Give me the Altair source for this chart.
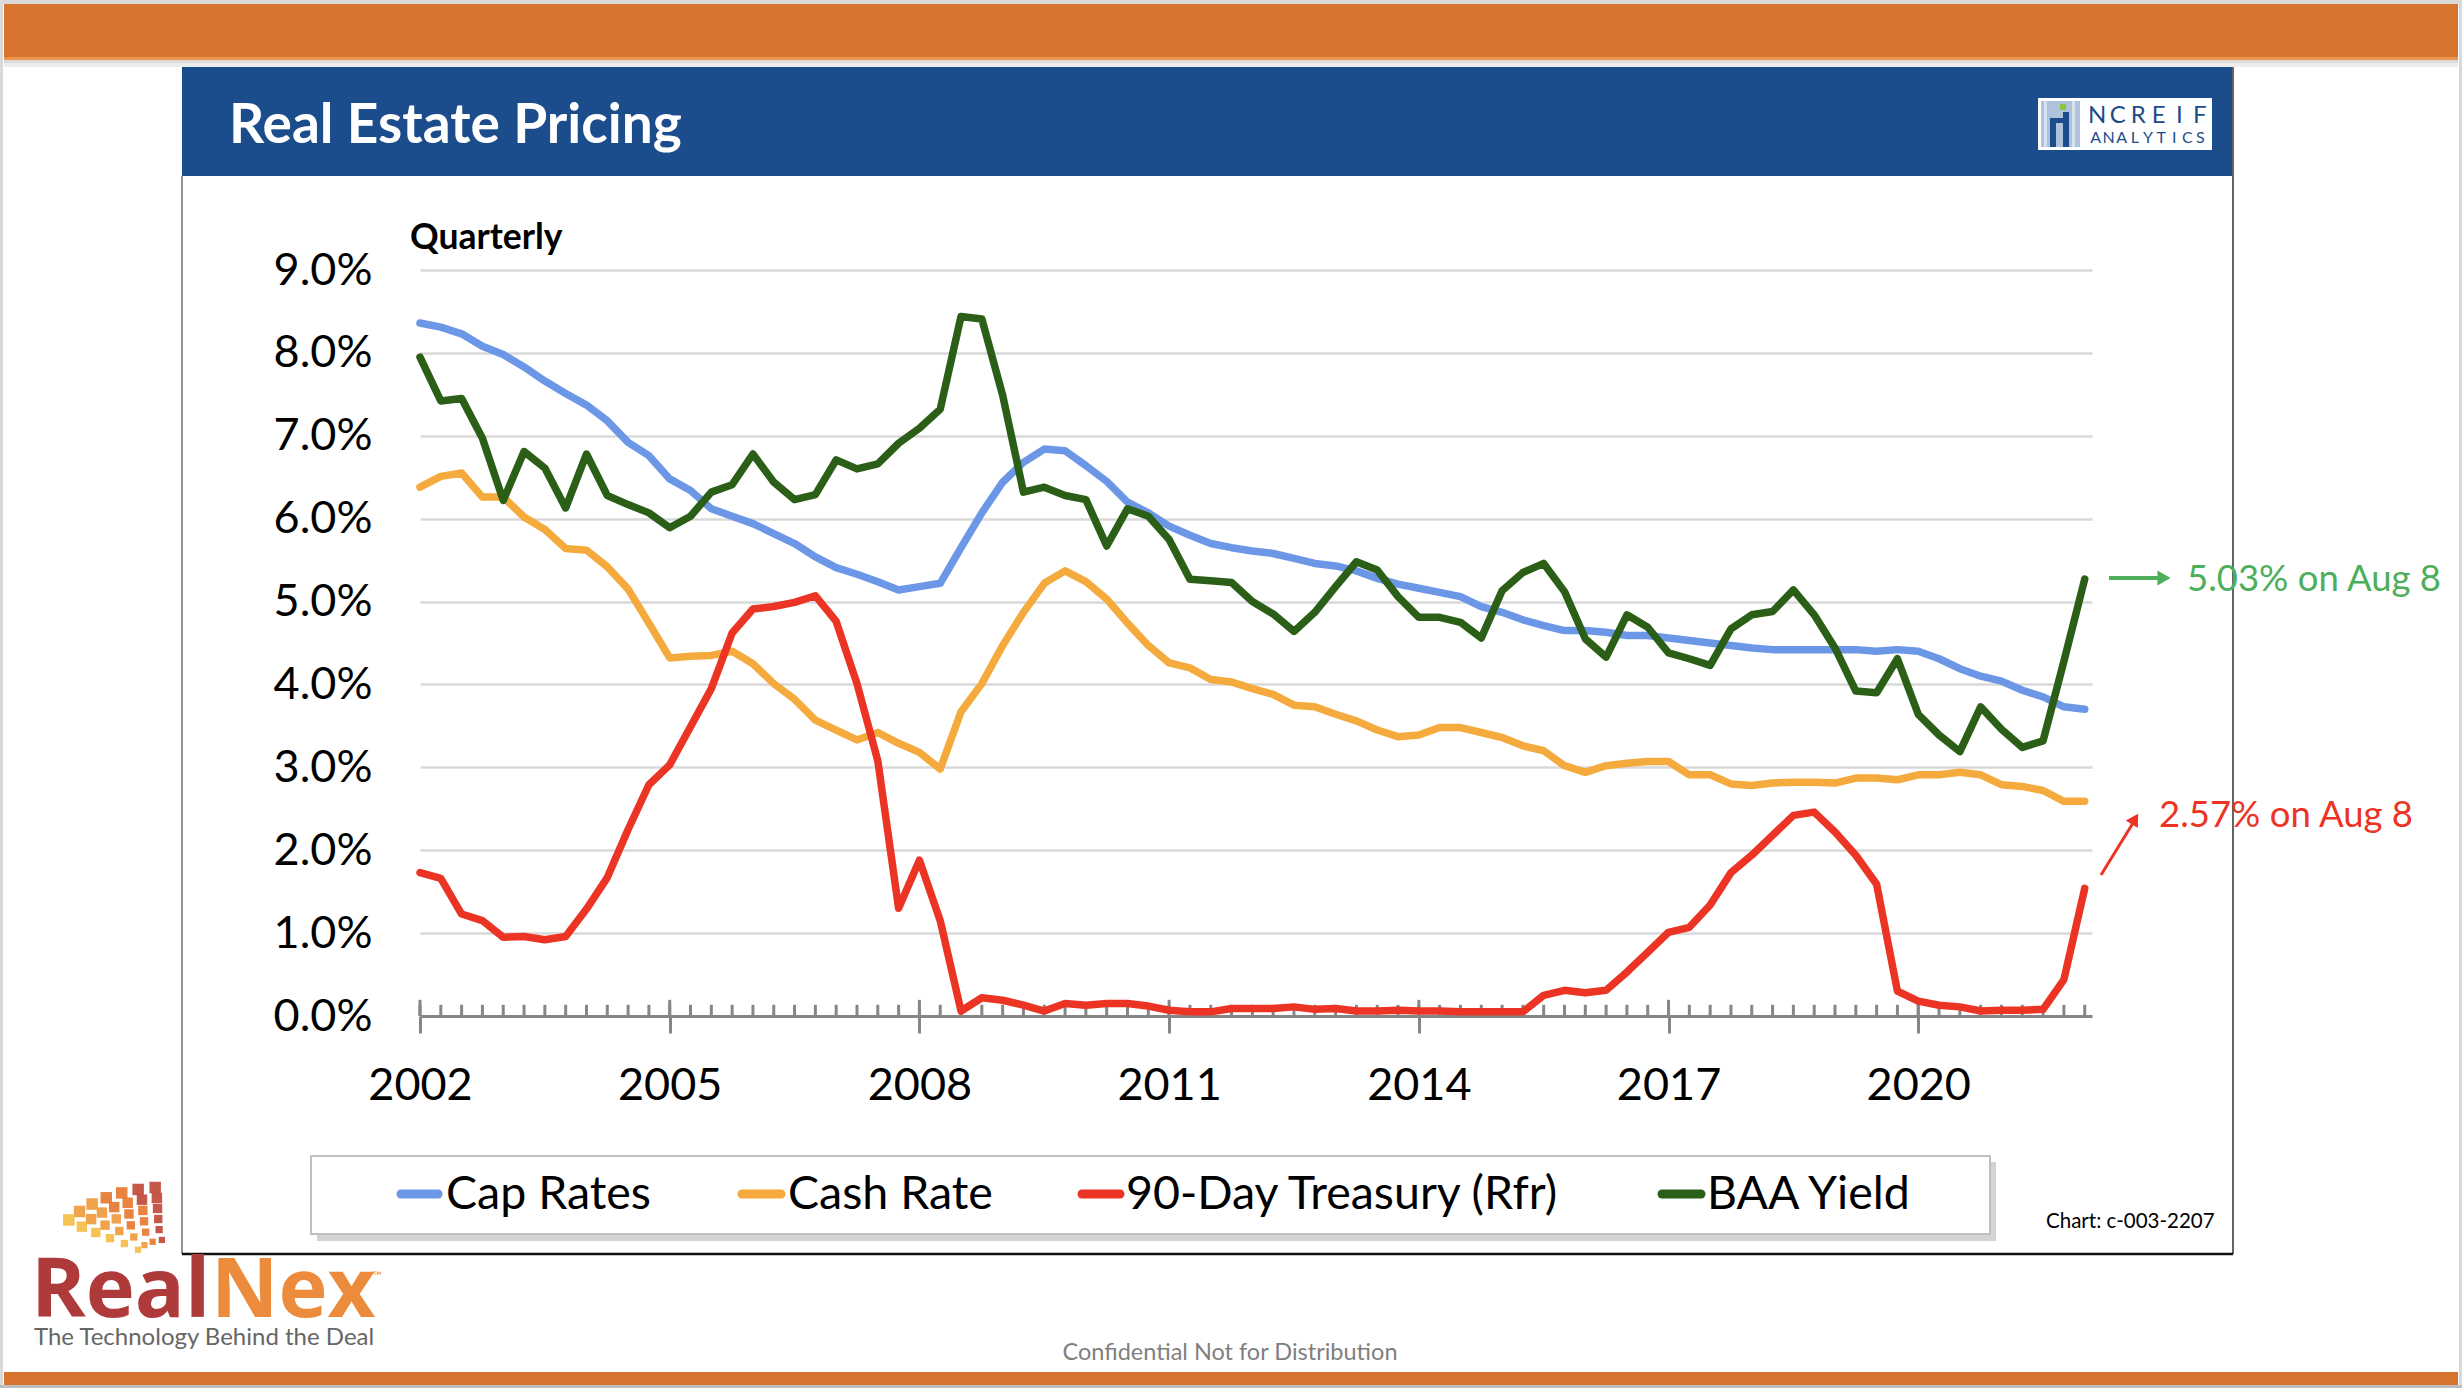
import math
import altair as alt
import pandas as pd

# ---------------- data (quarterly, 2002Q1 .. 2022Q1) ----------------
quarters = list(range(81))
year_tick_quarters = [0, 12, 24, 36, 48, 60, 72]
first_year = 2002

cap_rates = [8.36, 8.31, 8.23, 8.08, 7.98, 7.83, 7.66, 7.51, 7.37, 7.18,
             6.92, 6.76, 6.48, 6.34, 6.12, 6.03, 5.94, 5.82, 5.70, 5.54,
             5.41, 5.33, 5.24, 5.14, 5.18, 5.22, 5.65, 6.07, 6.44, 6.68,
             6.84, 6.82, 6.64, 6.45, 6.20, 6.07, 5.91, 5.80, 5.70, 5.65,
             5.61, 5.58, 5.52, 5.46, 5.43, 5.37, 5.28, 5.21, 5.16, 5.11,
             5.06, 4.94, 4.87, 4.78, 4.71, 4.65, 4.65, 4.63, 4.59, 4.59,
             4.56, 4.53, 4.50, 4.47, 4.44, 4.42, 4.42, 4.42, 4.42, 4.42,
             4.40, 4.42, 4.40, 4.31, 4.19, 4.10, 4.04, 3.93, 3.85, 3.73,
             3.70]
cash_rate = [6.38, 6.51, 6.55, 6.26, 6.26, 6.02, 5.87, 5.64, 5.62, 5.42,
             5.15, 4.74, 4.32, 4.34, 4.35, 4.40, 4.25, 4.01, 3.82, 3.57,
             3.45, 3.33, 3.42, 3.29, 3.18, 2.98, 3.67, 4.01, 4.47, 4.87,
             5.22, 5.37, 5.24, 5.03, 4.74, 4.47, 4.26, 4.20, 4.06, 4.03,
             3.95, 3.88, 3.75, 3.73, 3.64, 3.56, 3.45, 3.37, 3.39, 3.48,
             3.48, 3.42, 3.36, 3.26, 3.20, 3.02, 2.94, 3.02, 3.05, 3.07,
             3.07, 2.91, 2.91, 2.80, 2.78, 2.81, 2.82, 2.82, 2.81, 2.87,
             2.87, 2.85, 2.91, 2.91, 2.94, 2.91, 2.79, 2.77, 2.72, 2.59,
             2.59]
treasury = [1.73, 1.66, 1.23, 1.15, 0.95, 0.96, 0.92, 0.96, 1.29, 1.67,
            2.25, 2.79, 3.03, 3.49, 3.95, 4.62, 4.91, 4.94, 4.99, 5.07,
            4.76, 4.01, 3.08, 1.30, 1.88, 1.15, 0.06, 0.22, 0.19, 0.13,
            0.06, 0.15, 0.13, 0.15, 0.15, 0.12, 0.07, 0.05, 0.05, 0.09,
            0.09, 0.09, 0.11, 0.08, 0.09, 0.06, 0.06, 0.07, 0.06, 0.06,
            0.05, 0.05, 0.05, 0.05, 0.25, 0.31, 0.28, 0.31, 0.53, 0.77,
            1.01, 1.07, 1.34, 1.73, 1.94, 2.18, 2.42, 2.46, 2.22, 1.94,
            1.59, 0.30, 0.18, 0.13, 0.11, 0.06, 0.07, 0.07, 0.08, 0.44,
            1.54]
baa_yield = [7.95, 7.42, 7.45, 6.97, 6.22, 6.81, 6.61, 6.13, 6.78, 6.28,
             6.17, 6.07, 5.89, 6.03, 6.32, 6.41, 6.78, 6.44, 6.23, 6.29,
             6.71, 6.60, 6.66, 6.91, 7.09, 7.32, 8.44, 8.41, 7.49, 6.32,
             6.38, 6.28, 6.23, 5.67, 6.12, 6.03, 5.75, 5.27, 5.25, 5.23,
             5.00, 4.85, 4.64, 4.87, 5.18, 5.48, 5.38, 5.06, 4.81, 4.81,
             4.75, 4.56, 5.13, 5.35, 5.46, 5.12, 4.55, 4.33, 4.84, 4.69,
             4.38, 4.31, 4.23, 4.67, 4.84, 4.88, 5.14, 4.84, 4.44, 3.92,
             3.90, 4.31, 3.64, 3.39, 3.19, 3.73, 3.46, 3.24, 3.32, 4.28,
             5.27]

series_names = ["Cap Rates", "Cash Rate", "90-Day Treasury (Rfr)", "BAA Yield"]
series_values = [cap_rates, cash_rate, treasury, baa_yield]
series_colors = ["#6C97E6", "#F4AA3C", "#EC3424", "#2B5F17"]
y_tick_values = [0, 1, 2, 3, 4, 5, 6, 7, 8, 9]

title_text = "Real Estate Pricing"
subtitle_text = "Quarterly"
green_note = "5.03% on Aug 8"
red_note = "2.57% on Aug 8"
chart_id = "Chart: c-003-2207"
footer_text = "Confidential Not for Distribution"

# ---------------- layout (page pixels) ----------------
OX, OY = 420, 270          # plot origin on the page
W, H = 1672, 746           # plot area
PAGE_W, PAGE_H = 2462, 1388
FONT = "Lato"

one = pd.DataFrame({"k": [0]})


def R(x1, y1, x2, y2, **kw):
    return alt.Chart(one).mark_rect(**kw).encode(
        x=alt.value(x1 - OX), x2=alt.value(x2 - OX),
        y=alt.value(y1 - OY), y2=alt.value(y2 - OY))


def L(x1, y1, x2, y2, **kw):
    return alt.Chart(one).mark_rule(**kw).encode(
        x=alt.value(x1 - OX), x2=alt.value(x2 - OX),
        y=alt.value(y1 - OY), y2=alt.value(y2 - OY))


def T(x, y, s, **kw):
    kw.setdefault("baseline", "alphabetic")
    kw.setdefault("font", FONT)
    kw.setdefault("align", "left")
    return alt.Chart(one).mark_text(text=s, **kw).encode(
        x=alt.value(x - OX), y=alt.value(y - OY))


def P(x, y, **kw):
    return alt.Chart(one).mark_point(**kw).encode(
        x=alt.value(x - OX), y=alt.value(y - OY))


def spaced(x_start, x_end, y, s, **kw):
    """letters evenly spread between x_start and x_end (centre aligned)"""
    out = []
    n = len(s)
    step = (x_end - x_start) / n
    for i, ch in enumerate(s):
        out.append(T(x_start + step * (i + 0.5), y, ch, align="center", **kw))
    return out


layers = []

# page frame / bars
layers.append(R(0, 0, PAGE_W, 4, color="#D9D9D9"))
layers.append(R(4, 4, PAGE_W - 4, 58, color="#D7722F"))
layers.append(R(4, 57, PAGE_W - 4, 60, color="#E8954F"))
layers.append(R(4, 60, PAGE_W - 4, 63, color="#BDBDBD", opacity=0.55))
layers.append(R(4, 63, PAGE_W - 4, 67, color="#D5D5D5", opacity=0.45))
layers.append(R(0, 0, 3, PAGE_H, color="#D9D9D9"))
layers.append(R(PAGE_W - 3, 0, PAGE_W, PAGE_H, color="#D9D9D9"))
layers.append(R(4, 1372, PAGE_W - 4, 1385, color="#D7722F"))
layers.append(R(0, 1385, PAGE_W, PAGE_H, color="#BDBDBD"))

# title bar
layers.append(R(182, 67, 2232, 176, color="#1B4C8C"))
layers.append(T(229, 143, title_text, color="white", fontSize=55, fontWeight="bold"))

# NCREIF logo
layers.append(R(2038, 98, 2212, 150, color="white"))
layers.append(R(2041, 101, 2080, 147, color="#AFC2DB"))
layers.append(R(2044, 101, 2047, 147, color="#D6E0EE"))
layers.append(R(2072, 101, 2075, 147, color="#D6E0EE"))
layers.append(R(2050, 118, 2056, 147, color="#1B4C8C"))
layers.append(R(2063, 112, 2069, 147, color="#1B4C8C"))
layers.append(R(2056, 118, 2063, 123, color="#1B4C8C"))
layers.append(R(2060, 104, 2066, 110, color="#8CC63F"))
layers += spaced(2087, 2210, 123, "NCREIF", color="#1B4C8C", fontSize=24)
layers += spaced(2089, 2207, 143, "ANALYTICS", color="#1B4C8C", fontSize=16)

# panel border
layers.append(L(182, 176, 182, 1254, color="#6E6E6E", strokeWidth=1.5))
layers.append(L(2233, 67, 2233, 1254, color="#303030", strokeWidth=1.5))
layers.append(L(182, 1254, 2233, 1254, color="#111111", strokeWidth=2.5))

# ---------------- data layers ----------------
long_rows = []
for name, vals in zip(series_names, series_values):
    for q, v in zip(quarters, vals):
        long_rows.append({"q": q, "series": name, "value": v})
df = pd.DataFrame(long_rows)

xs = alt.Scale(domain=[0, 80.35], nice=False, zero=False)
ys = alt.Scale(domain=[0, 9], nice=False)

x_axis = alt.Axis(values=year_tick_quarters,
                  labelExpr=f"{first_year} + datum.value / 4",
                  grid=False, domainColor="#868686", domainWidth=3,
                  tickColor="#868686", tickWidth=3, tickSize=17,
                  labelFont=FONT, labelFontSize=45, labelColor="black",
                  labelPadding=30, labelFlush=False, labelOverlap=False,
                  labelBound=False, title=None)
y_axis = alt.Axis(values=y_tick_values,
                  labelExpr="format(datum.value, '.1f') + '%'",
                  grid=True, gridColor="#D9D9D9", gridWidth=2.5,
                  domain=False, ticks=False,
                  labelFont=FONT, labelFontSize=45, labelColor="black",
                  labelPadding=48, title=None)

tick_df = pd.DataFrame({"q": quarters})
major_df = pd.DataFrame({"q": year_tick_quarters})

layers.append(alt.Chart(tick_df).mark_rule(color="#868686", strokeWidth=3).encode(
    x=alt.X("q:Q", scale=xs, axis=x_axis),
    y=alt.YDatum(0, scale=ys, axis=y_axis),
    y2=alt.Y2Datum(0.135)))
layers.append(alt.Chart(major_df).mark_rule(color="#868686", strokeWidth=3).encode(
    x=alt.X("q:Q", scale=xs, axis=x_axis),
    y=alt.YDatum(0, scale=ys, axis=y_axis),
    y2=alt.Y2Datum(0.195)))

for name, col in zip(series_names, series_colors):
    layers.append(
        alt.Chart(df).transform_filter(alt.datum.series == name)
        .mark_line(color=col, strokeWidth=7.5, strokeJoin="round", strokeCap="round")
        .encode(x=alt.X("q:Q", scale=xs, axis=x_axis),
                y=alt.Y("value:Q", scale=ys, axis=y_axis))
    )

# subtitle
layers.append(T(410, 249, subtitle_text, color="black", fontSize=35.5, fontWeight="bold"))

# annotations
layers.append(L(2109, 578, 2160, 578, color="#4EAE5B", strokeWidth=4))
layers.append(P(2164, 578, shape="triangle-right", filled=True, size=230,
                color="#4EAE5B", opacity=1, strokeWidth=0))
layers.append(T(2187, 591, green_note, color="#4EAE5B", fontSize=36.5))
layers.append(L(2101, 875, 2133, 823, color="#EC3424", strokeWidth=3))
layers.append(P(2135, 819, shape="triangle-up", angle=31.5, filled=True, size=200,
                color="#EC3424", opacity=1, strokeWidth=0))
layers.append(T(2159, 827, red_note, color="#EC3424", fontSize=36.5))

# legend box
layers.append(R(317, 1162, 1996, 1241, color="#C8C8C8", opacity=0.8))
layers.append(R(311, 1156, 1990, 1234, color="white", stroke="#BFBFBF", strokeWidth=2))
legend_sym_x = [(401, 438), (742, 781), (1082, 1120), (1662, 1701)]
legend_txt_x = [446, 788, 1126, 1707]
for name, col, (a, b), tx in zip(series_names, series_colors, legend_sym_x, legend_txt_x):
    layers.append(L(a, 1194, b, 1194, color=col, strokeWidth=9, strokeCap="round"))
    layers.append(T(tx, 1209, name, color="black", fontSize=46.5))

layers.append(T(2046, 1228, chart_id, color="black", fontSize=20.5))
layers.append(T(1230, 1360, footer_text, color="#7F7F7F", fontSize=23.5, align="center"))

# RealNex logo: globe of small squares (decoration)
globe = []
gcx, gcy, grx, gry = 168, 1262, 112, 70
rings = [0.32, 0.47, 0.62, 0.77, 0.92, 1.07]
for r in rings:
    n = int(round(2 + 5 * r))
    th0, th1 = 92.0, 150.0 + 6 * (1.07 - r)
    for j in range(n):
        th = th0 + (th1 - th0) * (j + 0.5) / n
        gx = gcx + grx * r * math.cos(math.radians(th))
        gy = gcy - gry * r * math.sin(math.radians(th))
        if th > 140:
            colr = "#F3BE45"
        elif th > 124:
            colr = "#F09A3E"
        elif th > 106:
            colr = "#E77A30"
        else:
            colr = "#C04A3A"
        side = 4 + 7 * r
        globe.append({"gx": gx - OX, "gy": gy - OY, "gc": colr, "gs": side * side})
globe_df = pd.DataFrame(globe)
layers.append(alt.Chart(globe_df).mark_square(opacity=0.92).encode(
    x=alt.X("gx:Q", scale=None), y=alt.Y("gy:Q", scale=None),
    color=alt.Color("gc:N", scale=None), size=alt.Size("gs:Q", scale=None)))
layers.append(T(31, 1317, "Real", color="#AE3A3A", fontSize=83, fontWeight="bold",
                font="Open Sans"))
layers.append(T(211, 1317, "Nex", color="#EC8B3C", fontSize=83, fontWeight="bold",
                font="Open Sans"))
layers.append(T(373, 1280, "™", color="#EC8B3C", fontSize=12))
layers.append(T(34, 1345, "The Technology Behind the Deal", color="#666666", fontSize=24))

chart = alt.layer(*layers).properties(
    width=W, height=H,
    autosize=alt.AutoSizeParams(type="none"),
    padding={"left": OX, "top": OY, "right": PAGE_W - OX - W, "bottom": PAGE_H - OY - H},
    background="white",
).configure_view(strokeWidth=0)

chart.save("out.html", embed_options={"renderer": "svg", "actions": False})
